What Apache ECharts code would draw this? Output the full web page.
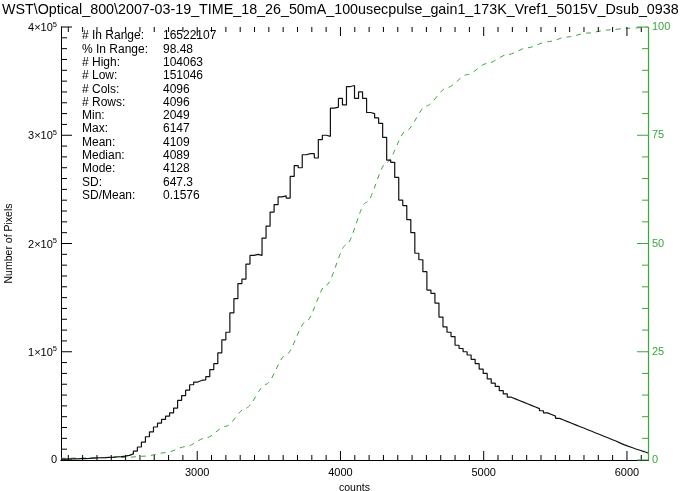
<!DOCTYPE html>
<html>
<head>
<meta charset="utf-8">
<script src="https://cdn.jsdelivr.net/npm/echarts@6/dist/echarts.min.js"></script>
<style>
  html, body { margin: 0; padding: 0; background: #fff; }
  #chart { width: 680px; height: 491px; }
</style>
</head>
<body>
<div id="chart"></div>
<script>
// Histogram of pixel counts: bins start at binStart, each binWidth wide
const binStart = 2049;
const binWidth = 28.07;
const pixelCounts = [
  900, 1000, 1000, 1100, 1200, 1300, 1500, 1800, 2000, 2100,
  2200, 2400, 2600, 2900, 3200, 3600, 4300, 5600, 8200, 12000,
  16500, 21500, 26000, 30500, 34000, 37500, 40500, 43500, 48000, 55000,
  59500, 64500, 69500, 72000, 73500, 74000, 77000, 83500, 89000, 99000,
  111000, 118000, 136000, 149000, 163000, 167000, 181000, 189000, 190000, 189000,
  205000, 216000, 229000, 236000, 243000, 244000, 242000, 262000, 272000, 270000,
  282000, 283000, 283000, 279000, 296000, 300000, 299000, 325000, 326000, 334000,
  328000, 345000, 346000, 334000, 340000, 334000, 321000, 320000, 316000, 311000,
  298000, 277000, 275000, 261000, 240000, 235000, 222000, 210000, 191000, 185000,
  174000, 157000, 154000, 145000, 132000, 123000, 118000, 114000, 106000, 103000,
  100000, 97000, 93000, 89000, 84000, 80000, 75000, 71000, 68000, 64000,
  61000, 58000, 56500, 55000, 53500, 52000, 50500, 49000, 47500, 45500,
  43500, 42000, 40500, 38500, 37000, 35500, 34000, 32500, 31000, 29500,
  28000, 26500, 25000, 23500, 22000, 20500, 19000, 17500, 15800, 14200,
  12800, 11500, 10200, 9000, 7800, 6500
];

// Cumulative percentage curve
const cumCounts = [2049, 2200, 2500, 2640, 2780, 2920, 3060, 3200, 3340, 3480, 3620, 3760, 3900, 4040, 4180, 4320, 4460, 4600, 4745, 4885, 5025, 5165, 5305, 5445, 5585, 5725, 5865, 6005, 6147];
const cumPercent = [0.4, 0.45, 0.6, 0.9, 1.7, 3.1, 5.1, 7.8, 12, 17.5, 24.3, 32, 40.4, 49.7, 59.5, 68.6, 76.1, 81.8, 86, 89, 91.6, 93.6, 95.2, 96.6, 97.7, 98.6, 99.3, 99.7, 100];

// Axis ranges and ticks
const xMin = 2049, xMax = 6147;
const xMajorTicks = [3000, 4000, 5000, 6000];
const xMinorStep = 100;
const yMax = 400000, yMajorStep = 100000, yMinorStep = 10000;
const pctMax = 100, pctMajorStep = 25, pctMinorStep = 5;

// Statistics block
const statNames = ['# In Range:', '% In Range:', '# High:', '# Low:', '# Cols:', '# Rows:', 'Min:', 'Max:', 'Mean:', 'Median:', 'Mode:', 'SD:', 'SD/Mean:'];
const statValues = ['16522107', '98.48', '104063', '151046', '4096', '4096', '2049', '6147', '4109', '4089', '4128', '647.3', '0.1576'];

const titleText = 'WST\\Optical_800\\2007-03-19_TIME_18_26_50mA_100usecpulse_gain1_173K_Vref1_5015V_Dsub_0938';

const GREEN = '#3aa83a';
const FONT = '"Liberation Sans", Arial, sans-serif';
const W = 680, H = 491;
const GRID = { left: 61, right: 32, top: 27, bottom: 31 };
const plotW = W - GRID.left - GRID.right, plotH = H - GRID.top - GRID.bottom;

function range(from, to, step) {
  const out = [];
  for (let v = from; v <= to + 1e-9; v += step) out.push(v);
  return out;
}
const xMinorTicks = range(2100, xMax, xMinorStep).filter(v => xMajorTicks.indexOf(v) < 0);
const yMajorTicks = range(0, yMax, yMajorStep);
const yMinorTicks = range(0, yMax, yMinorStep).filter(v => v % yMajorStep !== 0);
const pctMajorTicks = range(0, pctMax, pctMajorStep);
const pctMinorTicks = range(0, pctMax, pctMinorStep).filter(v => v % pctMajorStep !== 0);

const histData = pixelCounts.map((v, i) => [binStart + i * binWidth, v]);
histData.push([binStart + pixelCounts.length * binWidth, pixelCounts[pixelCounts.length - 1]]);
const cumData = cumCounts.map((c, i) => [c, cumPercent[i]]);

// Tick marks pointing into the plot, drawn as short segments in axis units
const xPerPx = (xMax - xMin) / plotW;
const yPerPx = yMax / plotH;
const pctPerPx = pctMax / plotH;

function tickSeries(segments, color, yAxisIndex) {
  const data = [];
  segments.forEach(([a, b]) => { data.push(a, b, [b[0], null]); });
  return {
    type: 'line', xAxisIndex: 0, yAxisIndex: yAxisIndex, data: data,
    symbol: 'none', silent: true, connectNulls: false, clip: false, z: 6,
    lineStyle: { color: color, width: 1 }, emphasis: { disabled: true }
  };
}
const xTickSegs = [];
[[xMajorTicks, 9], [xMinorTicks, 5]].forEach(([vals, len]) => vals.forEach(v => {
  xTickSegs.push([[v, 0], [v, len * yPerPx]]);
  xTickSegs.push([[v, yMax], [v, yMax - len * yPerPx]]);
}));
const yTickSegs = [];
[[yMajorTicks, 11], [yMinorTicks, 6]].forEach(([vals, len]) => vals.forEach(v => {
  yTickSegs.push([[xMin, v], [xMin + len * xPerPx, v]]);
}));
const pctTickSegs = [];
[[pctMajorTicks, 11], [pctMinorTicks, 6]].forEach(([vals, len]) => vals.forEach(v => {
  pctTickSegs.push([[xMax, v], [xMax - len * xPerPx, v]]);
}));

const texts = [
  { type: 'text', left: 2, top: 3, style: { text: titleText, fontSize: 14.3, fontFamily: FONT, fill: '#000' } }
];
statNames.forEach((n, i) => {
  texts.push({ type: 'text', left: 82, top: 30 + i * 13.3, style: { text: n, fontSize: 12, fontFamily: FONT, fill: '#000' } });
  texts.push({ type: 'text', left: 163, top: 30 + i * 13.3, style: { text: statValues[i], fontSize: 12, fontFamily: FONT, fill: '#000' } });
});

const chart = echarts.init(document.getElementById('chart'), null, { renderer: 'canvas', width: W, height: H });

chart.setOption({
  animation: false,
  backgroundColor: '#fff',
  grid: Object.assign({ containLabel: false, outerBoundsMode: 'none' }, GRID),
  graphic: texts,
  xAxis: [
    {
      type: 'value', position: 'bottom', min: xMin, max: xMax,
      name: 'counts', nameLocation: 'middle', nameGap: 21,
      nameTextStyle: { color: '#000', fontSize: 10.5, fontFamily: FONT },
      axisLine: { show: true, lineStyle: { color: '#000', width: 1 } },
      axisTick: { show: false },
      splitLine: { show: false },
      axisLabel: { customValues: xMajorTicks, color: '#000', fontSize: 11, fontFamily: FONT, margin: 7, formatter: v => String(v) }
    },
    {
      type: 'value', position: 'top', min: xMin, max: xMax,
      axisLine: { show: true, lineStyle: { color: '#000', width: 1 } },
      axisTick: { show: false }, axisLabel: { show: false }, splitLine: { show: false }
    }
  ],
  yAxis: [
    {
      type: 'value', position: 'left', min: 0, max: yMax, interval: yMajorStep,
      name: 'Number of Pixels', nameLocation: 'middle', nameGap: 46,
      nameTextStyle: { color: '#000', fontSize: 10.5, fontFamily: FONT },
      axisLine: { show: true, lineStyle: { color: '#000' } },
      axisTick: { show: false },
      splitLine: { show: false },
      axisLabel: {
        color: '#000', fontSize: 11, fontFamily: FONT, margin: 4,
        formatter: v => v === 0 ? '{b|0}' : '{b|' + (v / 100000) + '×10}{s|5}',
        rich: {
          b: { fontSize: 11, fontFamily: FONT, color: '#000', verticalAlign: 'bottom' },
          s: { fontSize: 7.5, fontFamily: FONT, color: '#000', verticalAlign: 'bottom', padding: [0, 0, 5, 0] }
        }
      }
    },
    {
      type: 'value', position: 'right', min: 0, max: pctMax, interval: pctMajorStep,
      name: 'Cumulative %', nameLocation: 'middle', nameGap: 20,
      nameTextStyle: { color: GREEN, fontSize: 10.5, fontFamily: FONT },
      axisLine: { show: true, lineStyle: { color: GREEN, width: 1.2 } },
      axisTick: { show: false },
      splitLine: { show: false },
      axisLabel: { color: GREEN, fontSize: 11, fontFamily: FONT, margin: 4, formatter: v => String(v) }
    }
  ],
  series: [
    {
      type: 'line', name: 'histogram', xAxisIndex: 0, yAxisIndex: 0,
      data: histData, step: 'end', symbol: 'none', z: 3,
      lineStyle: { color: '#111', width: 1.2 }
    },
    {
      type: 'line', name: 'cumulative', xAxisIndex: 0, yAxisIndex: 1,
      data: cumData, smooth: 0.3, smoothMonotone: 'x', symbol: 'none', z: 2,
      lineStyle: { color: GREEN, width: 1, type: [5, 5] }
    },
    tickSeries(xTickSegs, '#000', 0),
    tickSeries(yTickSegs, '#000', 0),
    tickSeries(pctTickSegs, GREEN, 1)
  ]
});
</script>
</body>
</html>
